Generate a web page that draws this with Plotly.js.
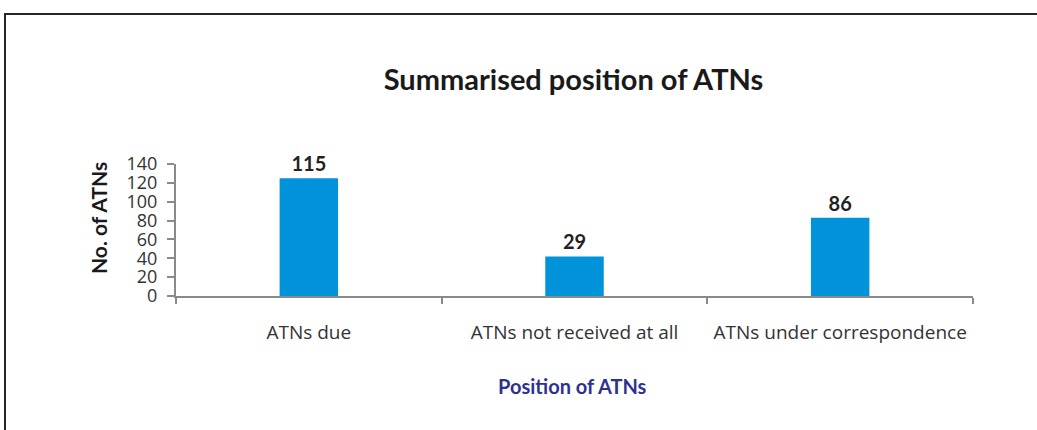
<!DOCTYPE html>
<html>
<head>
<meta charset="utf-8">
<script src="https://cdn.plot.ly/plotly-3.0.1.min.js"></script>
<style>
  html, body { margin: 0; padding: 0; background: #fff; }
  #wrap { position: relative; width: 1037px; height: 430px; }
  #chart { position: absolute; left: 0; top: 0; width: 1037px; height: 430px; }
  #frame { position: absolute; left: 4px; top: 13px; right: -4px; bottom: -4px;
           border-top: 2px solid #262626; border-left: 2px solid #262626; pointer-events: none; }
</style>
</head>
<body>
<div id="wrap">
  <div id="chart"></div>
  <div id="frame"></div>
</div>
<script>
// Data
const categories = ["ATNs due", "ATNs not received at all", "ATNs under correspondence"];
const barHeights = [125, 42, 83];        // bar heights as drawn in the picture
const valueLabels = ["115", "29", "86"]; // printed data labels
const yTicks = [0, 20, 40, 60, 80, 100, 120, 140];

const boldFont = "Lato, 'Open Sans', sans-serif";
const plainFont = "'Open Sans', 'Noto Sans', sans-serif";

const trace = {
  type: "bar",
  x: categories,
  y: barHeights,
  text: valueLabels,
  textposition: "outside",
  cliponaxis: false,
  textfont: { family: boldFont, size: 20, color: "#222222", weight: "bold" },
  marker: { color: "#0093d9" },
  hoverinfo: "none"
};

const layout = {
  width: 1037,
  height: 430,
  paper_bgcolor: "rgba(0,0,0,0)",
  plot_bgcolor: "rgba(0,0,0,0)",
  margin: { l: 176, r: 64, t: 164, b: 134, pad: 0 },
  bargap: 0.78,
  showlegend: false,
  title: {
    text: "<b>Summarised position of ATNs</b>",
    font: { family: boldFont, size: 29, color: "#1a1a1a" },
    x: 0.553, xanchor: "center",
    y: 0.815, yanchor: "middle"
  },
  xaxis: {
    type: "category",
    showgrid: false,
    zeroline: false,
    showline: true,
    linecolor: "#8a8a8a",
    linewidth: 2,
    ticks: "outside",
    tickson: "boundaries",
    ticklen: 6,
    tickwidth: 2,
    tickcolor: "#8a8a8a",
    ticklabelstandoff: 18,
    tickfont: { family: plainFont, size: 19, color: "#333333" }
  },
  yaxis: {
    range: [0, 140],
    tickvals: yTicks,
    showgrid: false,
    zeroline: false,
    showline: true,
    linecolor: "#8a8a8a",
    linewidth: 2,
    ticks: "outside",
    ticklen: 7,
    tickwidth: 2,
    tickcolor: "#8a8a8a",
    ticklabelstandoff: 6,
    tickfont: { family: plainFont, size: 18, color: "#333333" }
  },
  annotations: [
    {
      text: "<b>No. of ATNs</b>",
      xref: "paper", yref: "paper",
      x: -0.098, y: 0.59,
      xanchor: "center", yanchor: "middle",
      textangle: -90, showarrow: false,
      font: { family: boldFont, size: 21, color: "#1a1a1a" }
    },
    {
      text: "<b>Position of ATNs</b>",
      xref: "paper", yref: "paper",
      x: 0.498, y: -0.682,
      xanchor: "center", yanchor: "middle",
      showarrow: false,
      font: { family: boldFont, size: 20, color: "#2e3192" }
    }
  ]
};

Plotly.newPlot("chart", [trace], layout, { displayModeBar: false, staticPlot: true });
</script>
</body>
</html>
